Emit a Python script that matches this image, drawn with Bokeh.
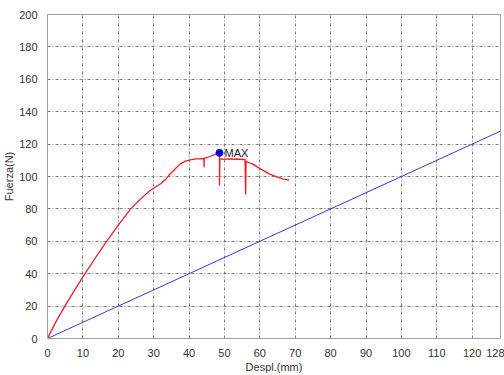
from bokeh.plotting import figure
from bokeh.models import FixedTicker, Range1d, ColumnDataSource
from bokeh.core.properties import value
from bokeh.embed import file_html
from bokeh.resources import INLINE

# Red test curve: displacement (mm) vs force (N)
disp = [0, 1.6, 2.8, 4.9, 7.7, 10.6, 13.6, 16.7, 20.0, 23.5, 25.7, 27.5, 29.0, 30.5,
        32.0, 33.5, 34.7, 36.0, 37.5, 39.0, 40.4, 42.0, 43.2, 44.2, 44.25, 44.3,
        46.0, 47.5, 48.6, 48.6, 48.7, 52.0, 55.8, 56.0, 56.1, 56.5, 57.9, 60.2,
        62.6, 65.0, 66.5, 68.3]
force = [0, 7, 12, 20, 30, 40, 50, 60, 70, 80, 84.8, 88.5, 91.4, 93.5,
         95.5, 98.5, 101.7, 104.5, 107.8, 109.5, 110.3, 110.9, 110.9, 111.1, 105.7, 111.2,
         112.5, 113.8, 114.6, 94.4, 110.7, 110.8, 110.5, 88.9, 109.5, 108.8, 107.8, 104.7,
         101.6, 99.6, 98.6, 97.8]

# Blue reference line
ref_x = [0, 128]
ref_y = [0, 128]

# Maximum point
max_x = [48.6]
max_y = [114.6]
max_label = ["MAX"]

x_ticks = [0, 10, 20, 30, 40, 50, 60, 70, 80, 90, 100, 110, 120, 128]
y_ticks = [0, 20, 40, 60, 80, 100, 120, 140, 160, 180, 200]

FONT = "Liberation Sans"

p = figure(width=504, height=375, output_backend="svg", toolbar_location=None,
           x_range=Range1d(0, 128), y_range=Range1d(0, 200),
           min_border_left=47, min_border_right=4, min_border_top=14, min_border_bottom=36)
p.background_fill_color = "white"
p.border_fill_color = "white"
p.outline_line_color = "#a0a0a0"
p.outline_line_width = 1

for ax in (p.xaxis[0], p.yaxis[0]):
    ax.major_tick_line_color = None
    ax.minor_tick_line_color = None
    ax.axis_line_color = "#a0a0a0"
    ax.major_label_text_font = FONT
    ax.major_label_text_font_size = "11px"
    ax.major_label_text_color = "#333333"
    ax.axis_label_text_font = FONT
    ax.axis_label_text_font_size = "11px"
    ax.axis_label_text_font_style = "normal"
    ax.axis_label_text_color = "#333333"

p.xaxis.ticker = FixedTicker(ticks=x_ticks)
p.yaxis.ticker = FixedTicker(ticks=y_ticks)
p.xaxis.axis_label = "Despl.(mm)"
p.yaxis.axis_label = "Fuerza(N)"
p.xaxis.major_label_standoff = 4
p.yaxis.major_label_standoff = 4
p.xaxis.axis_label_standoff = 1
p.yaxis.axis_label_standoff = 1

p.grid.grid_line_color = "#7a7a7a"
p.grid.grid_line_dash = "3 2 1 2"
p.grid.grid_line_width = 1

p.line(ref_x, ref_y, line_color="#3a3ad0", line_width=1)
p.line(disp, force, line_color="#ee1c25", line_width=1.3)

src = ColumnDataSource(dict(x=max_x, y=max_y, t=max_label))
p.scatter("x", "y", source=src, size=7, fill_color="#0000ee", line_color="#0000ee")
p.text("x", "y", text="t", source=src, x_offset=5, text_baseline="middle",
       text_font=value(FONT), text_font_size="11px", text_color="#222222")

open("out.html", "w").write(file_html(p, INLINE))
